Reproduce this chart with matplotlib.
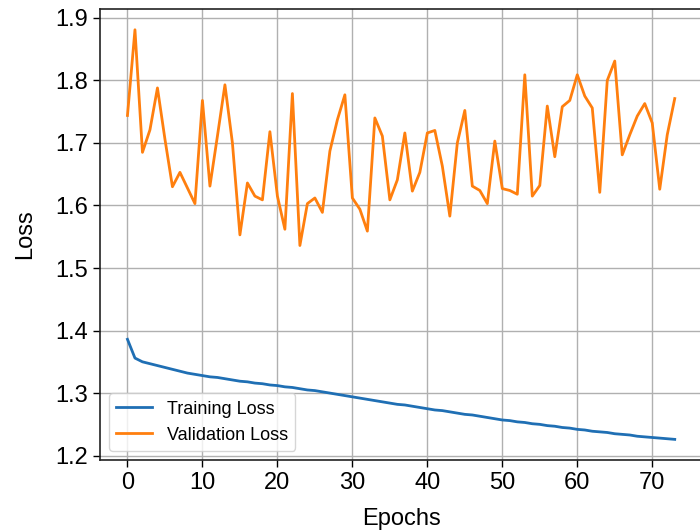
import matplotlib
matplotlib.use("Agg")
import matplotlib.pyplot as plt

epochs = list(range(74))
train_loss = [1.386, 1.356, 1.350, 1.347, 1.344, 1.341, 1.338, 1.335, 1.332, 1.330,
              1.328, 1.326, 1.325, 1.323, 1.321, 1.319, 1.318, 1.316, 1.315, 1.313,
              1.312, 1.310, 1.309, 1.307, 1.305, 1.304, 1.302, 1.300, 1.298, 1.296,
              1.294, 1.292, 1.290, 1.288, 1.286, 1.284, 1.282, 1.281, 1.279, 1.277,
              1.275, 1.273, 1.272, 1.270, 1.268, 1.266, 1.265, 1.263, 1.261, 1.259,
              1.257, 1.256, 1.254, 1.253, 1.251, 1.250, 1.248, 1.247, 1.245, 1.244,
              1.242, 1.241, 1.239, 1.238, 1.237, 1.235, 1.234, 1.233, 1.231, 1.230,
              1.229, 1.228, 1.227, 1.226]
val_loss = [1.744, 1.881, 1.685, 1.721, 1.788, 1.706, 1.630, 1.653, 1.628, 1.603,
            1.768, 1.631, 1.711, 1.793, 1.700, 1.553, 1.636, 1.615, 1.609, 1.718,
            1.615, 1.562, 1.779, 1.536, 1.603, 1.612, 1.589, 1.687, 1.737, 1.777,
            1.612, 1.594, 1.559, 1.740, 1.711, 1.609, 1.641, 1.716, 1.623, 1.653,
            1.716, 1.720, 1.663, 1.583, 1.700, 1.752, 1.631, 1.624, 1.603, 1.703,
            1.627, 1.624, 1.618, 1.809, 1.615, 1.632, 1.759, 1.678, 1.758, 1.768,
            1.809, 1.775, 1.756, 1.621, 1.800, 1.831, 1.681, 1.713, 1.743, 1.763,
            1.732, 1.626, 1.713, 1.771]

plt.rcParams['font.family'] = ['Liberation Sans', 'DejaVu Sans']

fig = plt.figure(figsize=(7.0, 5.31), dpi=100)
ax = fig.add_axes([0.143, 0.134, 0.86, 0.8485])

ax.plot(epochs, train_loss, color='#1f6fb4', linewidth=2, label='Training Loss')
ax.plot(epochs, val_loss, color='#ff7f0e', linewidth=2, label='Validation Loss')

ax.set_xlabel('Epochs', fontsize=17, labelpad=10)
ax.set_ylabel('Loss', fontsize=17, labelpad=14)
ax.tick_params(axis='both', labelsize=17, direction='out', length=5, width=1, colors='black')
ax.set_yticks([1.2, 1.3, 1.4, 1.5, 1.6, 1.7, 1.8, 1.9])
ax.set_xticks([0, 10, 20, 30, 40, 50, 60, 70])
ax.grid(True, color='#b0b0b0', linewidth=1)
for s in ax.spines.values():
    s.set_color('#222222')
    s.set_linewidth(1.2)

ax.legend(loc='lower left', fontsize=13, frameon=True, framealpha=0.8, edgecolor='#cccccc')

fig.savefig('out.png', dpi=100)
